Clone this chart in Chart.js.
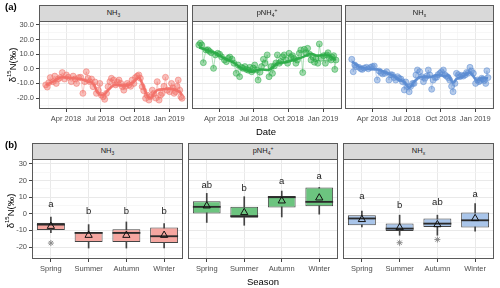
<!DOCTYPE html>
<html><head><meta charset="utf-8">
<script src="https://cdn.jsdelivr.net/npm/chart.js@4.4.1/dist/chart.umd.min.js"></script>
<style>
body{margin:0;background:#fff;font-family:"Liberation Sans",Arial,sans-serif;}
#wrap{position:relative;width:500px;height:288px;overflow:hidden;background:#fff}
canvas{position:absolute;left:0;top:0}
.strip{position:absolute;background:#d9d9d9;border:1px solid #5a5a5a;box-sizing:border-box;font-size:7.5px;color:#1a1a1a;text-align:center;line-height:14px}
.strip sub{font-size:5px;vertical-align:-1.5px;line-height:0}
.strip sup{font-size:5px;vertical-align:3px;line-height:0}
.plab{position:absolute;font-weight:bold;font-size:9.5px;color:#000}
.atitle{position:absolute;font-size:9.5px;color:#000;white-space:nowrap;transform:translate(-50%,-50%)}
.ytitle{position:absolute;font-size:9.5px;color:#000;white-space:nowrap;transform:translate(-50%,-50%) rotate(-90deg)}
</style></head>
<body><div id="wrap"></div>
<script>
// ---------- DATA ----------
// sampling dates as day number (0 = 1 Jan 2018)
const seriesDays = [36,40,44,48,55,60,64,69,75,80, 86,91,96,104,109,114,118,124,129,135,
  140,144,149,153,158,162,167,171,176,180, 184,189,193,198,202,207,211,217,222,227,
  231,236,240,244,249,253,258,262,266,271, 275,280,284,288,293,297,302,306,311,315,
  320,324,329,333,338,342,346,351,355,360, 366,371,375,378,382,386,389,393,396,399];
const nh3Values = [-11,-12.5,-9.5,-6,-8.8,-5,-10,-7,-6,-2.6, -7,-4.2,-5.8,-8.8,-5,-7,-10,-6,-5.8,-16.8,
  -8.8,-2,-6.5,-8.8,-7,-12.2,-9,-16.8,-14.6,-10, -18,-19.1,-20.9,-16.8,-12.2,-8.8,-6.5,-7.7,-11,-9,
  -7.7,-10,-12.2,-14.6,-12,-10,-11,-12,-7.7,-10, -6,-4.9,-4.2,-6.5,-12.2,-15,-20.2,-18,-21.4,-19.1,
  -14.6,-17,-20,-8.8,-21.4,-18,-16.8,-12,-5.8,-14.6, -15.7,-10,-13,-16.8,-15.7,-12,-7.7,-14.6,-19.1,-20.2];
const pnh4Values = [16.3,17.5,16.3,4.2,12.9,13,12,11,0.3,9.5, 10.6,10,8.2,6,4.9,7.2,8,6.5,3.8,-3.1,
  2.6,-5.4,1,0.3,1.5,-0.4,-1,1,-2,0.5, 2.6,-0.8,-7.7,-2.3,1.5,6.5,3.8,9.5,-5.4,1.5,
  -3.1,2,4,9.5,3.8,5,8.2,9.5,6,3.8, 10.6,8,9,7,3.8,6,10.6,12.9,-2.6,13.3,
  11,14,10,6,8,4.5,7,3.8,17,7.2, 9,3.8,9.5,11,7.2,6,8,9,-0.4,6];
const nhxValues = [6.5,-2,2.6,1.5,1,0,-0.4,0.5,1,0, 1,1.5,1.9,-7.7,-1.5,-2.6,-3.5,-3.1,-2,-7.7,
  -4,-4.2,-6,-7.7,-5.4,-6.5,-7,-8.8,-14.5,-9, -12.2,-15.7,-12,-10,-10,-4.2,-0.8,-2,-5.4,-8.8,
  -6.5,-5,-0.8,-4.2,-14,-7.7,-6,-5.8,-4,-3.1, -2,-0.8,-4,-5,-6,-7.7,-12,-15.7,-10,-3.1,
  -4,-5.4,-4.5,-5,-4.2,-2.5,-3,1,-1.5,-3.1, -10,-7.7,-8.8,-8,-6.5,-7,-8,-10,-1.3,-6];
const trendDays = [37,55,78,104,131,149,162,176,189,202,220,245,266,284,293,306,315,324,333,350,370,382,393,399];
const nh3Trend  = [-11,-8.8,-5.8,-6.3,-7.2,-8.8,-10,-16.8,-18,-14.6,-11,-11.5,-10,-6,-10,-18,-20,-17,-14.6,-14,-13.5,-14.6,-15.7,-18];
const pnh4Trend = [14.5,13,11,7.2,3.8,0.3,-0.8,-2,-1,-0.5,-0.8,3.8,4.5,5.8,6.5,7.5,8.5,9.5,10.3,9,9.5,9,7,6];
const nhxTrend  = [5,1.5,0,-0.5,-3,-5,-7.5,-9,-13,-9,-5.5,-5.5,-4.2,-5,-4.5,-9.5,-7,-6,-5,-2.6,-7.7,-6.5,-6.5,-6.5];

const dateTickDays = [90,181,273,365];
const dateTickLabels = ['Apr 2018','Jul 2018','Oct 2018','Jan 2019'];
const dateMinorDays = [44.5,135.5,227,319,410.5];
const yMajorTicks = [-20,-10,0,10,20,30];
const yMinorTicks = [-25,-15,-5,5,15,25];

const seasons = ['Spring','Summer','Autumn','Winter'];
const nh3Lo   = [-11.3,-20.6,-20.6,-20.6];
const nh3Q1   = [-9.7,-17,-17,-17.6];
const nh3Med  = [-6.5,-11.5,-11.5,-13.5];
const nh3Q3   = [-5.5,-10.9,-9.3,-8.3];
const nh3Hi   = [-1.9,-6.5,-4.9,-5.9];
const nh3Mean = [-7.5,-12.9,-12.9,-12.9];
const nh3Out  = [-17.6,null,null,null];
const nh3Letters = ['a','b','b','b'];
const nh3LetterY = [5.8,1.2,1.2,1.2];

const pnh4Lo   = [-5.2,-6.9,-1.9,-0.2];
const pnh4Q1   = [0.2,-2.4,3.8,4.6];
const pnh4Med  = [4.2,-1.4,10.0,7.2];
const pnh4Q3   = [7.6,4.2,10.7,15.9];
const pnh4Hi   = [12.3,10.3,13.7,15.9];
const pnh4Mean = [4.8,0.8,7.8,9.6];
const pnh4Out  = [null,null,null,null];
const pnh4Letters = ['ab','b','a','a'];
const pnh4LetterY = [17.3,15.3,19.3,22.3];

const nhxLo   = [-7.9,-12.9,-12.9,-10.5];
const nhxQ1   = [-6.9,-10.3,-7.9,-8.3];
const nhxMed  = [-2.8,-8.9,-5.9,-3.9];
const nhxQ3   = [-0.8,-5.9,-2.8,0.8];
const nhxHi   = [1.6,-0.8,-0.8,6.2];
const nhxMean = [-3.4,-8.3,-6.5,-2.8];
const nhxOut  = [null,-17.4,-15.5,null];
const nhxLetters = ['a','b','ab','a'];
const nhxLetterY = [10.7,4.8,6.8,11.7];

// ---------- STYLE / LAYOUT ----------
const FONT = '"Liberation Sans", Arial, sans-serif';
Chart.defaults.font.family = FONT;
const W = 500, H = 288;
const colRed = [242,112,104], colGreen = [44,172,72], colBlue = [92,140,210];
const rgba = (c,a)=>`rgba(${c[0]},${c[1]},${c[2]},${a})`;
const topPanels = [[39,21,188,109],[192,21,342,109],[345,21,494,109]];
const botPanels = [[32,159,183,259],[188,159,338,259],[343,159,494,259]];
const wrap = document.getElementById('wrap');

function addDiv(cls, html, style){const d=document.createElement('div');d.className=cls;d.innerHTML=html;Object.assign(d.style,style);wrap.appendChild(d);return d;}
function makeCanvas(){const c=document.createElement('canvas');c.width=W;c.height=H;wrap.appendChild(c);return c;}

const framePlugin = {id:'frame', afterDraw(chart){const a=chart.chartArea,ctx=chart.ctx;ctx.save();ctx.strokeStyle='#5a5a5a';ctx.lineWidth=1;
  ctx.strokeRect(Math.round(a.left)+0.5,Math.round(a.top)+0.5,Math.round(a.right-a.left)-1,Math.round(a.bottom-a.top)-1);ctx.restore();}};
const lettersPlugin = {id:'letters', afterDatasetsDraw(chart,args,opts){ if(!opts.labels) return;
  const xs=chart.scales.x, ys=chart.scales.y, ctx=chart.ctx; ctx.save();
  ctx.font='9.5px '+FONT; ctx.fillStyle='#1a1a1a'; ctx.textAlign='center'; ctx.textBaseline='middle';
  opts.labels.forEach((t,i)=>ctx.fillText(t, xs.getPixelForValue(i), ys.getPixelForValue(opts.ys[i])));
  ctx.restore();}};

const yTickValues = [...yMajorTicks, ...yMinorTicks].sort((a,b)=>a-b);
const isMajorY = v => yMajorTicks.includes(v);
function yAxis(show, width, fmt, min, max){
  return {type:'linear', min, max,
    afterBuildTicks: s=>{ s.ticks = yTickValues.map(v=>({value:v})); },
    afterFit: s=>{ s.width = width; },
    border:{display:false},
    grid:{color:c=>c.tick&&isMajorY(c.tick.value)?'#e9e9e9':'#f3f3f3',
          lineWidth:c=>c.tick&&isMajorY(c.tick.value)?1:0.7,
          drawTicks:show, tickLength:3,
          tickColor:c=>c.tick&&isMajorY(c.tick.value)?'#444':'rgba(0,0,0,0)'},
    ticks:{display:show, autoSkip:false, padding:2, color:'#4d4d4d', font:{size:7.5},
          callback:v=>isMajorY(v)?fmt(v):''}
  };
}
function padFor(p, yW, xH){ return {left:p[0]-yW, top:p[1], right:W-p[2], bottom:H-p[3]-xH}; }

// ---------- TOP ROW: time series ----------
const topSeries = [
  {vals:nh3Values, trend:nh3Trend, col:colRed},
  {vals:pnh4Values, trend:pnh4Trend, col:colGreen},
  {vals:nhxValues, trend:nhxTrend, col:colBlue}];
const dateTickAll = [...dateTickDays, ...dateMinorDays].sort((a,b)=>a-b);
topSeries.forEach((s,k)=>{
  const p = topPanels[k]; const yW = k===0?39:0;
  new Chart(makeCanvas(), {
    type:'line',
    data:{datasets:[
      {data:trendDays.map((d,i)=>({x:d,y:s.trend[i]})), borderColor:rgba(s.col,0.95), borderWidth:2.6,
       pointRadius:0, tension:0.3, cubicInterpolationMode:'monotone', order:1},
      {data:seriesDays.map((d,i)=>({x:d,y:s.vals[i]})), borderColor:rgba(s.col,0.45), borderWidth:0.8,
       pointRadius:3, pointBackgroundColor:rgba(s.col,0.45), pointBorderColor:rgba(s.col,0.5), pointBorderWidth:1, order:2}
    ]},
    options:{responsive:false, devicePixelRatio:1, animation:false,
      layout:{padding:padFor(p,yW,16)},
      plugins:{legend:{display:false}, tooltip:{enabled:false}},
      scales:{
        x:{type:'linear', min:18, max:415,
          afterBuildTicks:sc=>{ sc.ticks = dateTickAll.map(v=>({value:v})); },
          afterFit:sc=>{ sc.height = 16; },
          border:{display:false},
          grid:{color:c=>c.tick&&dateTickDays.includes(c.tick.value)?'#e9e9e9':'#f3f3f3',
                lineWidth:c=>c.tick&&dateTickDays.includes(c.tick.value)?1:0.7,
                tickLength:3, tickColor:c=>c.tick&&dateTickDays.includes(c.tick.value)?'#444':'rgba(0,0,0,0)'},
          ticks:{autoSkip:false, maxRotation:0, minRotation:0, padding:2, color:'#4d4d4d', font:{size:7.5},
                 callback:v=>{const i=dateTickDays.indexOf(v); return i>=0?dateTickLabels[i]:'';}}},
        y:yAxis(k===0, yW, v=>v.toFixed(1), -27.5, 32.7)
      }},
    plugins:[framePlugin]
  });
});

// ---------- BOTTOM ROW: box plots ----------
const boxSets = [
  {lo:nh3Lo,q1:nh3Q1,med:nh3Med,q3:nh3Q3,hi:nh3Hi,mean:nh3Mean,out:nh3Out,letters:nh3Letters,ly:nh3LetterY,fill:'#f5a6a0'},
  {lo:pnh4Lo,q1:pnh4Q1,med:pnh4Med,q3:pnh4Q3,hi:pnh4Hi,mean:pnh4Mean,out:pnh4Out,letters:pnh4Letters,ly:pnh4LetterY,fill:'#6cc47f'},
  {lo:nhxLo,q1:nhxQ1,med:nhxMed,q3:nhxQ3,hi:nhxHi,mean:nhxMean,out:nhxOut,letters:nhxLetters,ly:nhxLetterY,fill:'#a9c5ea'}];
boxSets.forEach((b,k)=>{
  const p = botPanels[k]; const yW = k===0?32:0;
  new Chart(makeCanvas(), {
    type:'bar',
    data:{labels:seasons, datasets:[
      {type:'line', data:b.out, showLine:false, pointStyle:'star', pointRadius:3, borderColor:'#8a8a8a', pointBorderColor:'#8a8a8a', pointBorderWidth:1, order:1},
      {type:'line', data:b.mean, showLine:false, pointStyle:'triangle', pointRadius:4.2, pointBackgroundColor:'rgba(0,0,0,0)', pointBorderColor:'#111', pointBorderWidth:1, order:2},
      {data:b.med.map(m=>[m-0.55,m+0.55]), backgroundColor:'#2b2b2b', borderWidth:0, grouped:false, barPercentage:0.74, categoryPercentage:1, order:3},
      {data:b.q1.map((q,i)=>[q,b.q3[i]]), backgroundColor:b.fill, borderColor:'#444', borderWidth:1, borderSkipped:false, grouped:false, barPercentage:0.74, categoryPercentage:1, order:4},
      {data:b.lo.map((l,i)=>[l,b.hi[i]]), backgroundColor:'#444', borderWidth:0, grouped:false, barThickness:1, order:5}
    ]},
    options:{responsive:false, devicePixelRatio:1, animation:false,
      layout:{padding:padFor(p,yW,16)},
      plugins:{legend:{display:false}, tooltip:{enabled:false}, letters:{labels:b.letters, ys:b.ly}},
      scales:{
        x:{type:'category', offset:true, afterFit:sc=>{ sc.height = 16; },
           border:{display:false},
           grid:{offset:false, color:'#e9e9e9', tickLength:3, tickColor:'#444'},
           ticks:{autoSkip:false, maxRotation:0, minRotation:0, padding:2, color:'#4d4d4d', font:{size:7.5}}},
        y:yAxis(k===0, yW, v=>String(v), -27.2, 33)
      }},
    plugins:[framePlugin, lettersPlugin]
  });
});

// ---------- TEXT: strips, panel tags, axis titles ----------
const stripTexts = ['NH<sub>3</sub>','pNH<sub>4</sub><sup>+</sup>','NH<sub>x</sub>'];
topPanels.forEach((p,k)=>addDiv('strip', stripTexts[k], {left:p[0]+'px', top:'5px', width:(p[2]-p[0])+'px', height:'17px'}));
botPanels.forEach((p,k)=>addDiv('strip', stripTexts[k], {left:p[0]+'px', top:'143px', width:(p[2]-p[0])+'px', height:'17px'}));
addDiv('plab','(a)',{left:'5px', top:'1px'});
addDiv('plab','(b)',{left:'5px', top:'139px'});
addDiv('ytitle','δ<sup style="font-size:6px">15</sup>N(‰)',{left:'12px', top:'65px'});
addDiv('ytitle','δ<sup style="font-size:6px">15</sup>N(‰)',{left:'10px', top:'211px'});
addDiv('atitle','Date',{left:'266px', top:'131px'});
addDiv('atitle','Season',{left:'263px', top:'281px'});
</script>
</body></html>
